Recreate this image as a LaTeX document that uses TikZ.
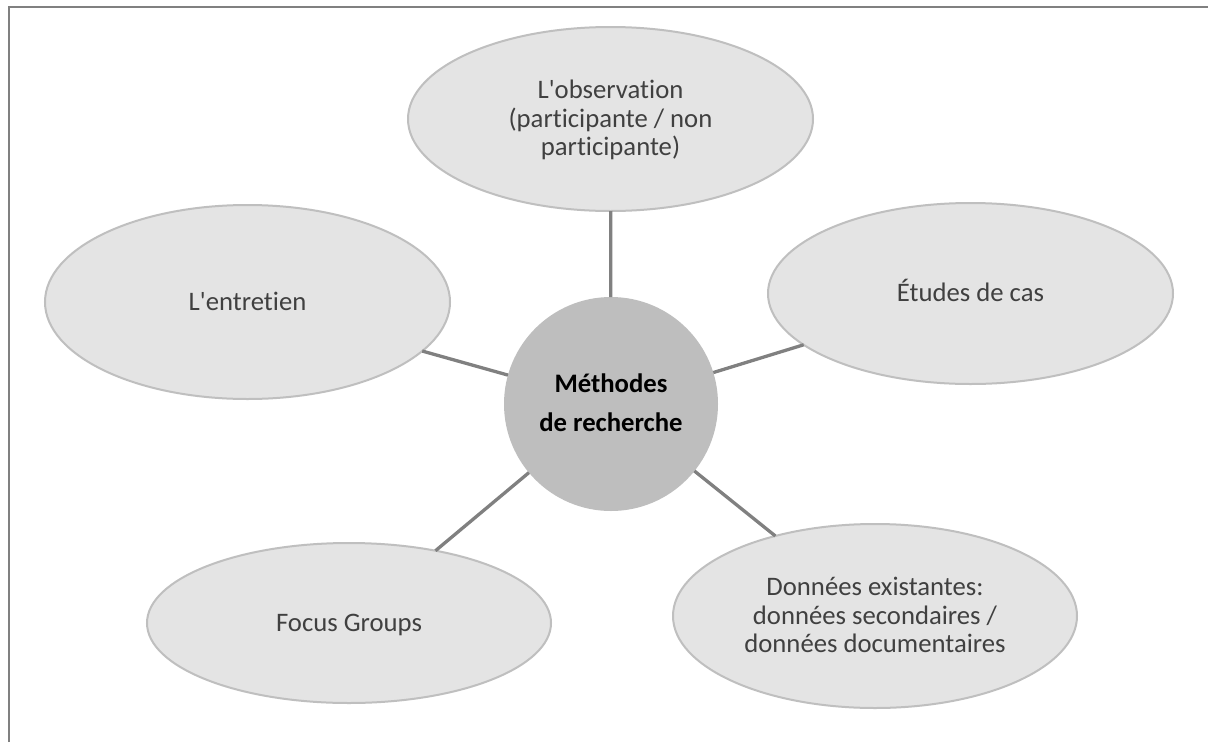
\documentclass[tikz,border=0pt]{standalone}
\usepackage{fontspec}
\setmainfont{Carlito}[Ligatures={TeXOff,CommonOff}]
\usetikzlibrary{shapes.geometric}
\definecolor{framegray}{HTML}{808080}
\definecolor{ellfill}{HTML}{E4E4E4}
\definecolor{ellline}{HTML}{BFBFBF}
\definecolor{hubfill}{HTML}{BEBEBE}
\definecolor{txtgray}{HTML}{404040}
\definecolor{linkgray}{HTML}{808080}
\tikzset{
  methodell/.style={ellipse, fill=ellfill, draw=ellline, line width=2pt,
    inner sep=0pt, outer sep=0pt, align=center, text=txtgray,
    font=\fontsize{26.7}{28.5}\selectfont, text depth=0pt},
  oneline/.style={text height=16.9pt},
  threeline/.style={text height=73.9pt},
  hub/.style={circle, fill=hubfill, draw=none, inner sep=0pt, outer sep=0pt,
    minimum size=214pt, align=center, text=black,
    font=\fontsize{26.7}{39}\selectfont\bfseries, text height=55.9pt, text depth=0pt},
  link/.style={draw=linkgray, line width=3.3pt}
}
\begin{document}
\begin{tikzpicture}[x=1pt,y=-1pt]
\useasboundingbox (0,0) rectangle (1208,742);
\fill[white] (0,0) rectangle (1208,742);
\draw[framegray, line width=2pt] (9.3,742) -- (9.3,7) -- (1208,7);

\node[hub] (hub) at (611,404) {Méthodes\\de recherche};

\node[methodell, threeline, minimum width=405pt, minimum height=184pt] (obs) at (610.5,119)
  {L'observation\\(participante / non\\participante)};
\node[methodell, oneline, minimum width=405pt, minimum height=194pt] (ent) at (247.5,302)
  {L'entretien};
\node[methodell, oneline, minimum width=405pt, minimum height=181pt] (cas) at (970.5,293.5)
  {Études de cas};
\node[methodell, oneline, minimum width=404pt, minimum height=160pt] (focus) at (349,623)
  {Focus Groups};
\node[methodell, threeline, minimum width=404pt, minimum height=184pt] (don) at (875,616)
  {Données existantes:\\données secondaires /\\données documentaires};

\draw[link] (hub) -- (obs);
\draw[link] (hub) -- (ent);
\draw[link] (hub) -- (cas);
\draw[link] (hub) -- (focus);
\draw[link] (hub) -- (don);
\end{tikzpicture}
\end{document}
